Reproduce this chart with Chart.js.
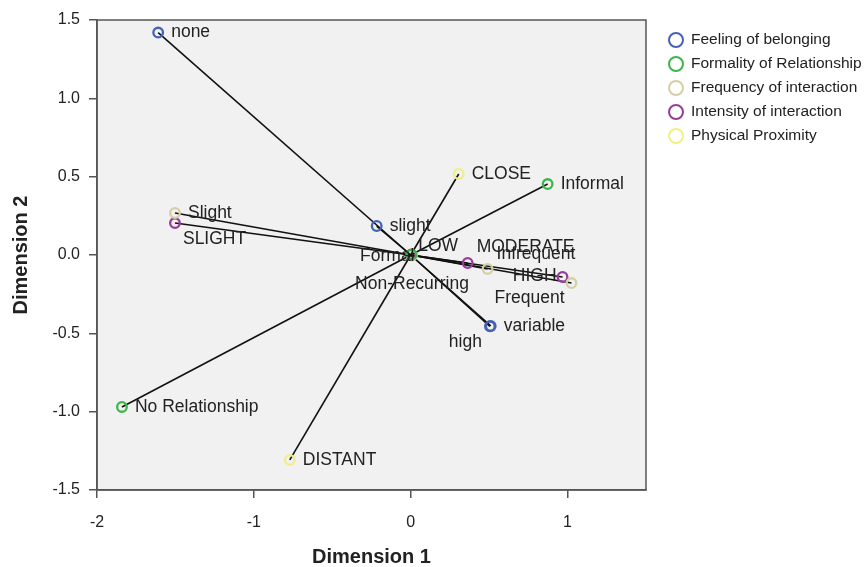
<!DOCTYPE html>
<html>
<head>
<meta charset="utf-8">
<script src="https://cdn.jsdelivr.net/npm/chart.js@4.4.0/dist/chart.umd.min.js"></script>
<style>
  html, body { margin: 0; padding: 0; background: #ffffff; }
  #wrap { width: 865px; height: 567px; }
</style>
</head>
<body>
<div id="wrap"><canvas id="jointPlot" width="865" height="567"></canvas></div>
<script>
// category points (Dimension 1 / Dimension 2)
const feelingLabels = ['none', 'slight', 'high', 'variable'];
const feelingX = [-1.61, -0.217, 0.505, 0.51];
const feelingY = [1.42, 0.185, -0.455, -0.453];

const formalityLabels = ['Formal', 'Informal', 'No Relationship'];
const formalityX = [0.005, 0.873, -1.841];
const formalityY = [0.002, 0.453, -0.97];

const frequencyLabels = ['Slight', 'Non-Recurring', 'Infrequent', 'Frequent'];
const frequencyX = [-1.503, 0.008, 0.49, 1.025];
const frequencyY = [0.268, -0.004, -0.089, -0.179];

const intensityLabels = ['SLIGHT', 'LOW', 'MODERATE', 'HIGH'];
const intensityX = [-1.503, 0.003, 0.363, 0.968];
const intensityY = [0.204, 0.004, -0.051, -0.14];

const proximityLabels = ['CLOSE', 'DISTANT'];
const proximityX = [0.306, -0.771];
const proximityY = [0.517, -1.308];

const seriesNames = ['Feeling of belonging', 'Formality of Relationship', 'Frequency of interaction', 'Intensity of interaction', 'Physical Proximity'];

const xTicks = [-2, -1, 0, 1];
const yTicks = [-1.5, -1.0, -0.5, 0.0, 0.5, 1.0, 1.5];

const FONT = "'Liberation Sans', Arial, sans-serif";
const colours = ['#4562b8', '#3cb54a', '#d5cfa6', '#983c9a', '#efef86'];

const groups = [
    [feelingLabels, feelingX, feelingY],
    [formalityLabels, formalityX, formalityY],
    [frequencyLabels, frequencyX, frequencyY],
    [intensityLabels, intensityX, intensityY],
    [proximityLabels, proximityX, proximityY]
];

// label placement around the point (pixels), default is to the right
const labelPlace = {
    'high': { dx: -8, dy: 16, align: 'right' },
    'SLIGHT': { dx: 8, dy: 16, align: 'left' },
    'Formal': { dx: 3, dy: 1, align: 'right' },
    'LOW': { dx: 7, dy: -8, align: 'left' },
    'Non-Recurring': { dx: 0, dy: 29, align: 'center' },
    'MODERATE': { dx: 9, dy: -16, align: 'left' },
    'Infrequent': { dx: 9, dy: -15, align: 'left' },
    'HIGH': { dx: -6, dy: -1, align: 'right' },
    'Frequent': { dx: -7, dy: 15, align: 'right' }
};

const datasets = [];
groups.forEach((g, i) => {
    datasets.push({
        label: seriesNames[i],
        data: g[1].map((x, k) => ({ x: x, y: g[2][k], name: g[0][k] })),
        pointRadius: 4.8,
        pointBorderWidth: 2.3,
        pointBackgroundColor: 'rgba(0,0,0,0)',
        pointBorderColor: colours[i],
        showLine: false,
        order: 0
    });
});
// lines from the origin to every category point
groups.forEach(g => {
    g[1].forEach((x, k) => {
        datasets.push({
            label: '',
            data: [{ x: 0, y: 0 }, { x: x, y: g[2][k] }],
            showLine: true,
            borderColor: '#111',
            borderWidth: 1.6,
            pointRadius: 0,
            order: 1
        });
    });
});

const framePlugin = {
    id: 'frame',
    beforeDraw(chart) {
        const { ctx, chartArea: a } = chart;
        ctx.save();
        ctx.fillStyle = '#f0f1f0';
        ctx.fillRect(a.left, a.top, a.right - a.left, a.bottom - a.top);
        ctx.strokeStyle = '#555';
        ctx.lineWidth = 1.5;
        ctx.strokeRect(a.left, a.top, a.right - a.left, a.bottom - a.top);
        ctx.restore();
    },
    afterDatasetsDraw(chart) {
        const { ctx, scales } = chart;
        ctx.save();
        ctx.font = '17.5px ' + FONT;
        ctx.fillStyle = '#222';
        ctx.textBaseline = 'middle';
        groups.forEach(g => {
            g[0].forEach((name, k) => {
                const px = scales.x.getPixelForValue(g[1][k]);
                const py = scales.y.getPixelForValue(g[2][k]);
                const p = labelPlace[name] || { dx: 13, dy: 0, align: 'left' };
                ctx.textAlign = p.align;
                ctx.fillText(name, px + p.dx, py + p.dy);
            });
        });
        ctx.restore();
    },
    afterDraw(chart) {
        const ctx = chart.ctx;
        ctx.save();
        ctx.font = '15.5px ' + FONT;
        ctx.textBaseline = 'middle';
        ctx.textAlign = 'left';
        seriesNames.forEach((s, i) => {
            const y = 40 + i * 24;
            ctx.beginPath();
            ctx.arc(676, y, 7, 0, Math.PI * 2);
            ctx.strokeStyle = colours[i];
            ctx.lineWidth = 2;
            ctx.stroke();
            ctx.fillStyle = '#222';
            ctx.fillText(s, 691, y);
        });
        ctx.restore();
    }
};

const ctx = document.getElementById('jointPlot').getContext('2d');
new Chart(ctx, {
    type: 'scatter',
    data: { datasets: datasets },
    options: {
        responsive: false,
        animation: false,
        events: [],
        layout: { padding: { top: 20, right: 219, left: 0, bottom: 0 } },
        plugins: {
            legend: { display: false },
            tooltip: { enabled: false }
        },
        scales: {
            x: {
                type: 'linear',
                min: -2,
                max: 1.5,
                afterBuildTicks: s => { s.ticks = xTicks.map(v => ({ value: v })); },
                afterFit: s => { s.height = 77; },
                grid: { drawOnChartArea: false, drawTicks: true, tickLength: 8, color: '#555', lineWidth: 1.5 },
                border: { display: true, color: '#555', width: 1.5 },
                ticks: { color: '#222', font: { family: FONT, size: 16 }, padding: 15, callback: v => String(v) },
                title: { display: true, text: 'Dimension 1', color: '#222', font: { family: FONT, size: 20, weight: 'bold', lineHeight: 1.0 }, padding: { top: 0, bottom: 0 } }
            },
            y: {
                type: 'linear',
                min: -1.5,
                max: 1.5,
                afterBuildTicks: s => { s.ticks = yTicks.map(v => ({ value: v })); },
                afterFit: s => { s.width = 97; },
                grid: { drawOnChartArea: false, drawTicks: true, tickLength: 8, color: '#555', lineWidth: 1.5 },
                border: { display: true, color: '#555', width: 1.5 },
                ticks: { color: '#222', font: { family: FONT, size: 16 }, padding: 9, callback: v => v.toFixed(1) },
                title: { display: true, text: 'Dimension 2', color: '#222', font: { family: FONT, size: 20, weight: 'bold' }, padding: { top: 9, bottom: 0 } }
            }
        }
    },
    plugins: [framePlugin]
});
</script>
</body>
</html>
